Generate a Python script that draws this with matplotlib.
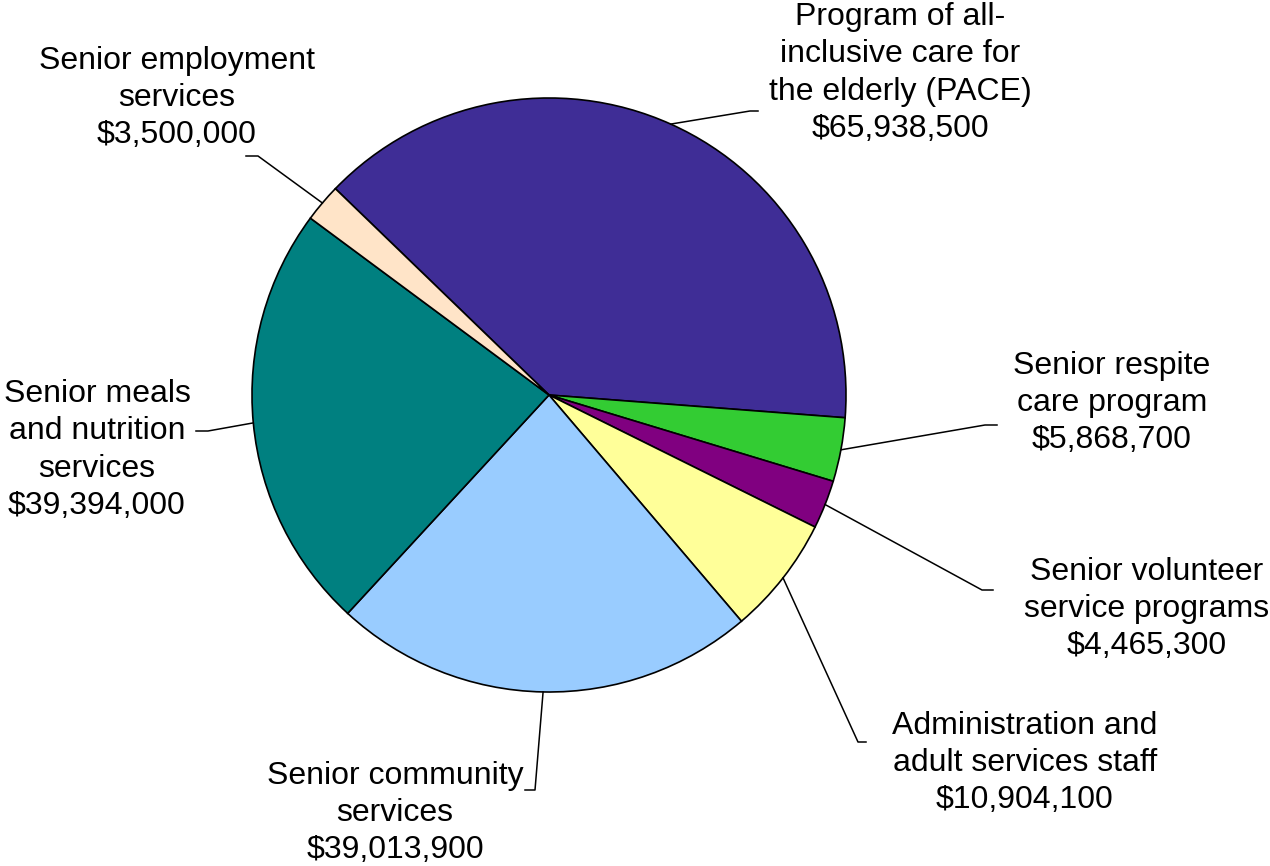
import numpy as np
import matplotlib.pyplot as plt

# budget by program, in pie order (clockwise from top-left)
programs = [
    "Program of all-\ninclusive care for\nthe elderly (PACE)",
    "Senior respite\ncare program",
    "Senior volunteer\nservice programs",
    "Administration and\nadult services staff",
    "Senior community\nservices",
    "Senior meals\nand nutrition\nservices",
    "Senior employment\nservices",
]
amounts = [65938500, 5868700, 4465300, 10904100, 39013900, 39394000, 3500000]
colors = ["#3f2d96", "#33cc33", "#800080", "#ffff99", "#99ccff", "#008080", "#ffe4c8"]

# label layout in pixels (y from top): text centre, elbow, end of short horizontal
label_xy = [(900, 73), (1112, 403), (1147, 609), (1025, 763), (395, 813), (97, 450), (177, 98)]
elbow_xy = [(750, 111), (985, 425), (982, 590), (858, 742), (535, 790), (208, 431), (258, 156)]
end_xy = [(758, 111), (997, 425), (993, 590), (866, 742), (525, 790), (196, 431), (246, 156)]

W, H = 1270, 866
cx, cy, r = 549, 395, 297

plt.rcParams['font.family'] = ['Liberation Sans', 'DejaVu Sans']

fig = plt.figure(figsize=(12.7, 8.66), dpi=100)
ax = fig.add_axes([0, 0, 1, 1])

wedges, _ = ax.pie(amounts, colors=colors, startangle=136, counterclock=False,
                   center=(cx, H - cy), radius=r,
                   wedgeprops=dict(edgecolor='black', linewidth=1.2))

for w, lab, amt, (tx, ty), (ex, ey), (hx, hy) in zip(wedges, programs, amounts,
                                                       label_xy, elbow_xy, end_xy):
    mid = np.deg2rad((w.theta1 + w.theta2) / 2)
    px = cx + r * np.cos(mid)
    py = (H - cy) + r * np.sin(mid)
    ax.plot([px, ex, hx], [py, H - ey, H - hy], color='black', lw=1.1)
    ax.text(tx, H - ty, f"{lab}\n${amt:,.0f}", ha='center', va='center',
            fontsize=23, linespacing=1.32)

ax.set_xlim(0, W)
ax.set_ylim(0, H)
ax.set_aspect('equal')
ax.axis('off')

fig.savefig("out.png", dpi=100)
